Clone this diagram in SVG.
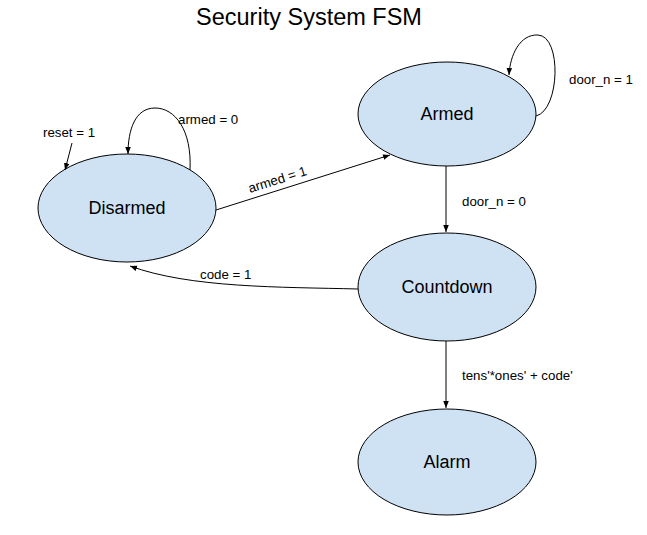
<svg xmlns="http://www.w3.org/2000/svg" width="647" height="535" viewBox="0 0 647 535">
<style>
.node ellipse{fill:#cfe2f3;stroke:#000;stroke-width:1}
.node text{font-family:"Liberation Sans",Arial,sans-serif;font-size:18px;text-anchor:middle;fill:#000}
.edge path{fill:none;stroke:#000;stroke-width:1;marker-end:url(#ah)}
.lbl{font-family:"Liberation Sans",Arial,sans-serif;font-size:13.3px;fill:#000}
</style>
<defs>
<marker id="ah" viewBox="0 0 10 10" refX="10" refY="5" markerWidth="7" markerHeight="7" orient="auto" markerUnits="userSpaceOnUse">
<path d="M0,1 L10,5 L0,9 Z" fill="#000"/>
</marker>
</defs>
<rect width="647" height="535" fill="#fff"/>
<text x="309" y="25" font-family="Liberation Sans,Arial,sans-serif" font-size="23.5" text-anchor="middle">Security System FSM</text>
<g id="disarmed" class="node"><ellipse cx="127" cy="208" rx="89" ry="54"/><text x="127" y="214">Disarmed</text></g>
<g id="armed" class="node"><ellipse cx="447" cy="114" rx="89" ry="52"/><text x="447" y="120">Armed</text></g>
<g id="countdown" class="node"><ellipse cx="447" cy="287" rx="89" ry="54"/><text x="447" y="293">Countdown</text></g>
<g id="alarm" class="node"><ellipse cx="447" cy="462" rx="89" ry="53"/><text x="447" y="468">Alarm</text></g>
<g id="connectors" class="edge">
<path d="M446,166 L446,232"/>
<path d="M446,341 L446,408"/>
<path d="M216,210 L390,155"/>
<path d="M358,289 C280,287 190,288 130,266"/>
<path d="M190,170 C192,130 175,108 155,108 C135,108 128,130 128,154"/>
<path d="M72,143 L65,170"/>
<path d="M536,116 C560,110 562,36 538,35 C520,34 510,55 509,75"/>
</g>
<g id="labels" class="lbl">
<text x="178" y="124">armed = 0</text>
<text x="43" y="137">reset = 1</text>
<text x="250" y="193" transform="rotate(-17.5 250 193)">armed = 1</text>
<text x="569" y="84">door_n = 1</text>
<text x="462" y="206">door_n = 0</text>
<text x="200" y="279">code = 1</text>
<text x="462" y="380">tens'*ones' + code'</text>
</g>
</svg>
